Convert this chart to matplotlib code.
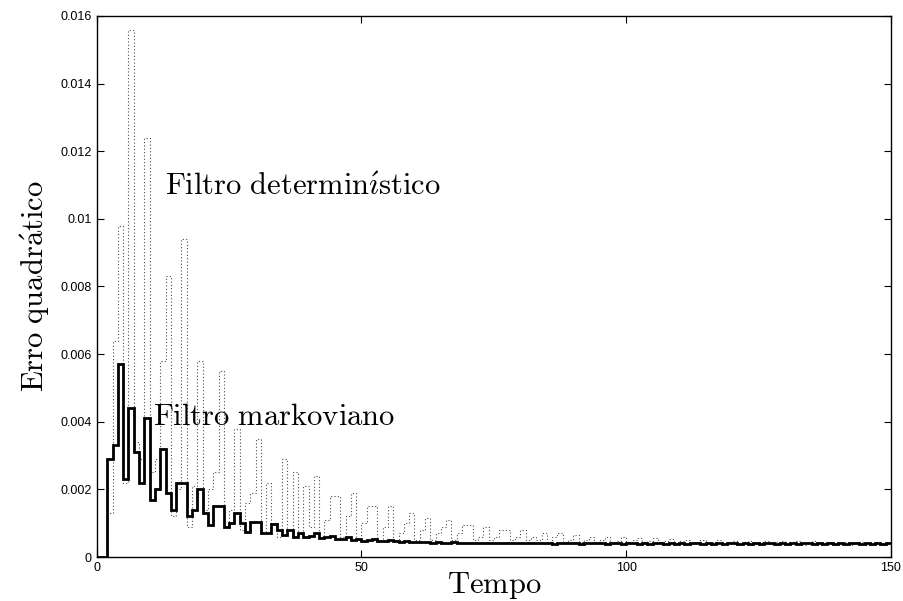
import matplotlib.pyplot as plt
import numpy as np

# Erro quadratico por passo de tempo
markoviano = [
    0, 0, 0.0029, 0.0033, 0.0057, 0.0023, 0.0044, 0.0031, 0.0022, 0.0041,
    0.0017, 0.0020, 0.0032, 0.0019, 0.0014, 0.0022, 0.0022, 0.0012, 0.0014, 0.0020,
    0.0013, 0.00095, 0.0015, 0.0015, 0.0009, 0.0010, 0.0013, 0.0010, 0.00075, 0.00105,
    0.00105, 0.0007, 0.0007, 0.00097, 0.0008, 0.00065, 0.0008, 0.0006, 0.00072, 0.0006,
    0.00062, 0.0007, 0.00056, 0.0006, 0.00062, 0.00054, 0.00052, 0.00058, 0.0005, 0.00052,
    0.00048, 0.0005, 0.00052, 0.00047, 0.00046, 0.00049, 0.00046, 0.00045, 0.00047, 0.00044,
    0.00045, 0.00043, 0.00044, 0.00042, 0.00043, 0.00042, 0.00041, 0.00043, 0.00042, 0.00041,
    0.00042, 0.00041, 0.00042, 0.0004, 0.00041, 0.00042, 0.0004, 0.00041, 0.0004, 0.00041,
    0.0004, 0.00041, 0.0004, 0.0004, 0.00041, 0.0004, 0.00039, 0.0004, 0.00041, 0.0004,
    0.0004, 0.00039, 0.0004, 0.0004, 0.00041, 0.0004, 0.00039, 0.0004, 0.0004, 0.00039,
    0.0004, 0.0004, 0.00039, 0.0004, 0.00039, 0.0004, 0.0004, 0.00039, 0.0004, 0.00039,
    0.0004, 0.00039, 0.0004, 0.0004, 0.00039, 0.0004, 0.00039, 0.0004, 0.00039, 0.0004,
    0.0004, 0.00039, 0.0004, 0.00039, 0.0004, 0.00039, 0.0004, 0.0004, 0.00039, 0.0004,
    0.00039, 0.0004, 0.00039, 0.0004, 0.0004, 0.00039, 0.0004, 0.00039, 0.0004, 0.00039,
    0.0004, 0.00039, 0.0004, 0.0004, 0.00039, 0.0004, 0.00039, 0.0004, 0.00039, 0.0004,
]

deterministico = [
    0, 0, 0.0013, 0.0064, 0.0098, 0.0022, 0.0156, 0.0034, 0.0029, 0.0124,
    0.0025, 0.0029, 0.0058, 0.0083, 0.0012, 0.0020, 0.0094, 0.0009, 0.0021, 0.0058,
    0.0014, 0.0020, 0.0025, 0.0055, 0.0009, 0.0014, 0.0038, 0.0008, 0.0016, 0.0019,
    0.0035, 0.0007, 0.0022, 0.0010, 0.0006, 0.0029, 0.0008, 0.0025, 0.0007, 0.0021,
    0.0009, 0.0024, 0.0006, 0.0011, 0.0018, 0.0018, 0.0006, 0.0012, 0.0019, 0.0005,
    0.0010, 0.0015, 0.0015, 0.0005, 0.0009, 0.0015, 0.0005, 0.0007, 0.0010, 0.0013,
    0.0005, 0.0008, 0.00115, 0.0005, 0.0007, 0.0009, 0.0011, 0.0005, 0.0007, 0.00095,
    0.00095, 0.0005, 0.0006, 0.0009, 0.0005, 0.0006, 0.0008, 0.0008, 0.0005, 0.0006,
    0.0008, 0.0005, 0.0006, 0.0005, 0.00072, 0.00045, 0.0006, 0.0007, 0.00045, 0.0005,
    0.00066, 0.00045, 0.0005, 0.0006, 0.00045, 0.0005, 0.0006, 0.00044, 0.00048, 0.00058,
    0.00044, 0.0005, 0.00056, 0.00044, 0.00047, 0.00055, 0.00043, 0.00046, 0.00053, 0.00042,
    0.00046, 0.0005, 0.0004, 0.00045, 0.0005, 0.0004, 0.00045, 0.00049, 0.00038, 0.00044,
    0.00048, 0.00038, 0.00044, 0.00047, 0.00037, 0.00043, 0.00047, 0.00037, 0.00043, 0.00046,
    0.00037, 0.00043, 0.00046, 0.00036, 0.00042, 0.00046, 0.00036, 0.00042, 0.00045, 0.00036,
    0.00042, 0.00045, 0.00036, 0.00042, 0.00045, 0.00036, 0.00042, 0.00044, 0.00036, 0.00042,
]

yticks = [0, 0.002, 0.004, 0.006, 0.008, 0.01, 0.012, 0.014, 0.016]
ytick_labels = ["0", "0.002", "0.004", "0.006", "0.008", "0.01", "0.012", "0.014", "0.016"]
xticks = [0, 50, 100, 150]

plt.rcParams["mathtext.fontset"] = "cm"
plt.rcParams["font.family"] = ["Liberation Sans", "DejaVu Sans"]

fig = plt.figure(figsize=(9.04, 6.01), dpi=100)
ax = fig.add_axes([0.107, 0.0732, 0.8786, 0.9002])

t = np.arange(len(markoviano) + 1)
ax.stairs(deterministico, t, baseline=None, color="0.3", linewidth=0.8,
          linestyle=(0, (1, 2)))
ax.stairs(markoviano, t, baseline=None, color="black", linewidth=2.0)

ax.set_xlim(0, 150)
ax.set_ylim(0, 0.016)
ax.set_xticks(xticks)
ax.set_xticklabels([str(v) for v in xticks])
ax.set_yticks(yticks)
ax.set_yticklabels(ytick_labels)
ax.tick_params(direction="in", top=True, right=True, labelsize=9, length=5, width=0.8)
for s in ax.spines.values():
    s.set_linewidth(1.0)

ax.text(12.9, 0.0107, r"$\mathrm{Filtro\ determin\acute{\imath}stico}$", fontsize=22)
ax.text(10.6, 0.0039, r"$\mathrm{Filtro\ markoviano}$", fontsize=22)

ax.set_xlabel(r"$\mathrm{Tempo}$", fontsize=22, labelpad=-3)
ax.set_ylabel(r"$\mathrm{Erro\ quadr\acute{a}tico}$", fontsize=22, labelpad=6)

fig.savefig("out.png", dpi=100)
